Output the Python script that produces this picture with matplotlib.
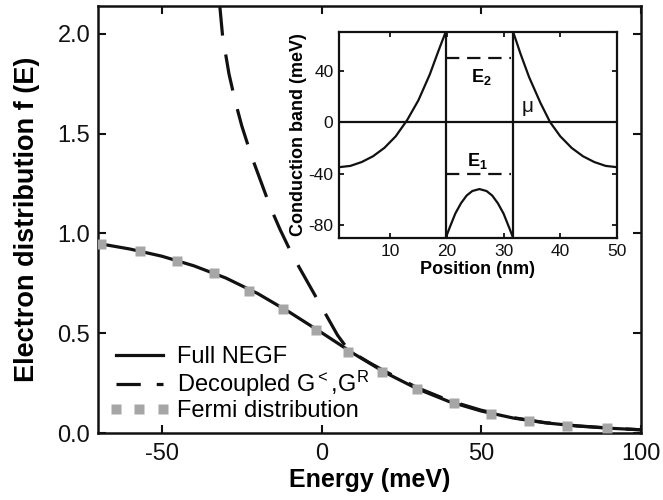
import matplotlib
matplotlib.use('Agg')
import matplotlib.pyplot as plt
from matplotlib.lines import Line2D

plt.rcParams['font.family'] = ['Liberation Sans', 'DejaVu Sans']
plt.rcParams['mathtext.fontset'] = 'custom'
plt.rcParams['mathtext.rm'] = 'Liberation Sans'
plt.rcParams['mathtext.it'] = 'Liberation Sans:italic'
plt.rcParams['mathtext.bf'] = 'Liberation Sans:bold'
plt.rcParams['axes.unicode_minus'] = False

# ---------------- main chart data ----------------
energy_negf = [-70, -60, -50, -40, -30, -20, -10, 0, 10, 20, 30, 40, 50, 60, 70, 80, 90, 100]
f_negf = [0.950, 0.922, 0.886, 0.838, 0.777, 0.699, 0.605, 0.503, 0.398, 0.302, 0.221, 0.157, 0.110, 0.075, 0.051, 0.035, 0.024, 0.016]

energy_dec = [-32.5, -31, -29, -27, -25, -22, -19, -16, -13, -10, -7, -4, -1, 2, 5, 8.5,
              10, 15, 20, 30, 40, 50, 60, 70, 80, 90, 100]
f_dec = [2.25, 1.99, 1.80, 1.66, 1.54, 1.39, 1.26, 1.13, 1.02, 0.92, 0.83, 0.745, 0.66, 0.575, 0.49, 0.414,
         0.400, 0.352, 0.308, 0.227, 0.162, 0.114, 0.077, 0.052, 0.036, 0.025, 0.016]

energy_fermi = [-69.1, -56.9, -45.3, -33.7, -22.7, -12.1, -1.8, 8.4, 18.8, 29.8, 41.3, 52.9, 64.9, 76.9, 89.3]
f_fermi = [0.947, 0.912, 0.862, 0.802, 0.712, 0.622, 0.516, 0.408, 0.307, 0.219, 0.150, 0.095, 0.060, 0.037, 0.027]

x_ticks = [-50, 0, 50, 100]
y_ticks = [0.0, 0.5, 1.0, 1.5, 2.0]
y_ticklabels = ['0.0', '0.5', '1.0', '1.5', '2.0']

# ---------------- inset data ----------------
pos_left = [1, 3, 5, 7, 9, 11, 13, 15, 17, 18.5, 19.8]
cb_left = [-35, -34, -31, -26.5, -20, -11, 1.5, 17, 37, 55, 70]
pos_right = [31.7, 33, 34.5, 36.5, 38.2, 40, 42, 44, 46, 48, 50]
cb_right = [70, 53, 35, 15, 0, -11, -20, -26.5, -31, -34, -35]
pos_well = [19.8, 20.5, 21.5, 22.5, 23.5, 24.5, 25.75, 27, 28, 29, 30, 31, 31.7]
cb_well = [-90, -82, -71, -63, -57, -53.5, -52, -53.5, -57, -63, -71, -82, -90]
wall_positions = [19.8, 31.7]
level_E1 = -40
level_E2 = 50
level_span = [19.9, 31.4]
mu_level = 0

inset_xticks = [10, 20, 30, 40, 50]
inset_yticks = [-80, -40, 0, 40]

# ---------------- figure ----------------
fig = plt.figure(figsize=(6.63, 5.0), dpi=100)
ax = fig.add_axes([98 / 663, 67 / 500, 543 / 663, 427 / 500])

line_col = '#111111'
sq_col = '#a6a6a6'

full_line, = ax.plot(energy_negf, f_negf, '-', color=line_col, lw=2.3, zorder=3,
                     label='Full NEGF')
ax.plot(energy_dec, f_dec, color=line_col, lw=2.3, dashes=(11.5, 6), zorder=2)
fermi_pts, = ax.plot(energy_fermi, f_fermi, 's', color=sq_col, ms=7.5, mec='none', zorder=4,
                     label='Fermi distribution')

ax.set_xlim(-70, 100)
ax.set_ylim(0, 2.14)
ax.set_xticks(x_ticks)
ax.set_xticklabels([str(t) for t in x_ticks])
ax.set_yticks(y_ticks)
ax.set_yticklabels(y_ticklabels)
ax.tick_params(direction='in', length=6, width=1.5, top=True, right=True,
               labelsize=17, colors='#111111')
ax.tick_params(axis='x', pad=7.5)
ax.tick_params(axis='y', pad=5.5)
for s in ax.spines.values():
    s.set_linewidth(1.8)
    s.set_color('#111111')

ax.set_xlabel('Energy (meV)', fontsize=18, fontweight='bold', labelpad=2)
ax.set_ylabel('Electron distribution f (E)', fontsize=19.5, fontweight='bold', labelpad=13)

dec_proxy = Line2D([], [], color=line_col, lw=2.3, dashes=(7.6, 5))
leg = ax.legend([full_line, dec_proxy, fermi_pts],
                ['Full NEGF', r'Decoupled G$^{<}$,G$^{\mathrm{R}}$', 'Fermi distribution'],
                loc='lower left', bbox_to_anchor=(0, 0), borderaxespad=0.05,
                frameon=False, fontsize=17, handlelength=2.6, handletextpad=0.3,
                labelspacing=0.05, numpoints=3)

# ---------------- inset ----------------
ins = fig.add_axes([339 / 663, 262 / 500, 278 / 663, 206 / 500])
ilw = 1.6
ins.plot(pos_left, cb_left, color=line_col, lw=ilw)
ins.plot(pos_right, cb_right, color=line_col, lw=ilw)
ins.plot(pos_well, cb_well, color=line_col, lw=ilw)
for w in wall_positions:
    ins.axvline(w, color=line_col, lw=ilw)
ins.axhline(mu_level, color=line_col, lw=ilw)
ins.plot(level_span, [level_E2, level_E2], color=line_col, lw=ilw, dashes=(6, 3.5))
ins.plot(level_span, [level_E1, level_E1], color=line_col, lw=ilw, dashes=(6, 3.5))

ins.text(26.1, 35, r'$\mathbf{E}_{\mathbf{2}}$', fontsize=13, ha='center', va='center')
ins.text(25.4, -30, r'$\mathbf{E}_{\mathbf{1}}$', fontsize=13, ha='center', va='center')
ins.text(34.3, 12, 'μ', fontsize=15, ha='center', va='center', color=line_col)

ins.set_xlim(1, 50)
ins.set_ylim(-90, 70)
ins.set_xticks(inset_xticks)
ins.set_yticks(inset_yticks)
ins.tick_params(direction='in', length=3.5, width=1.3, top=True, right=True,
                labelsize=12.5, colors='#111111', pad=4)
for s in ins.spines.values():
    s.set_linewidth(1.6)
    s.set_color('#111111')
ins.set_xlabel('Position (nm)', fontsize=13, fontweight='bold', labelpad=2)
ins.set_ylabel('Conduction band (meV)', fontsize=13, fontweight='bold', labelpad=1)

fig.savefig('out.png', dpi=100)
